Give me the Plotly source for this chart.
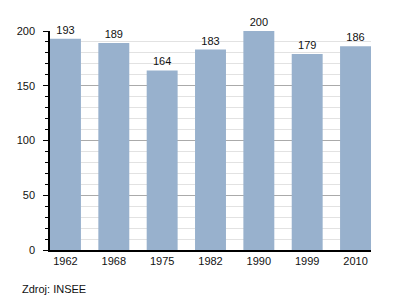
import plotly.graph_objects as go

years = ["1962", "1968", "1975", "1982", "1990", "1999", "2010"]
values = [193, 189, 164, 183, 200, 179, 186]

fig = go.Figure(go.Bar(
    x=years, y=values,
    marker=dict(color="#98b1cd", line=dict(width=0)),
    text=[str(v) for v in values], textposition="outside",
    textfont=dict(size=11, color="#111"),
    cliponaxis=False,
))
fig.update_layout(
    width=400, height=300,
    margin=dict(l=50, r=29, t=31, b=50),
    paper_bgcolor="white", plot_bgcolor="white",
    bargap=0.36, showlegend=False,
    font=dict(family="Liberation Sans, Arial, sans-serif", size=11, color="#111"),
    annotations=[dict(text="Zdroj: INSEE", xref="paper", yref="paper",
                      x=-30/321, y=-39/219, xanchor="left", yanchor="middle",
                      showarrow=False, font=dict(size=11))],
)
fig.update_xaxes(range=[-0.32, 6.32], showline=True, linecolor="black", linewidth=1.5,
                 ticks="", showgrid=False, fixedrange=True, ticklabelstandoff=0)
fig.update_yaxes(range=[0, 200], tickvals=[0, 50, 100, 150, 200],
                 showline=True, linecolor="black", linewidth=1.5,
                 ticks="outside", ticklen=5, tickcolor="black",
                 ticklabelstandoff=6,
                 showgrid=True, gridcolor="#aaaaaa", gridwidth=1,
                 minor=dict(dtick=10, ticks="outside", ticklen=3, tickcolor="black",
                            showgrid=True, gridcolor="#e2e2e2", gridwidth=1),
                 zeroline=False)
fig.write_html("out.html")
